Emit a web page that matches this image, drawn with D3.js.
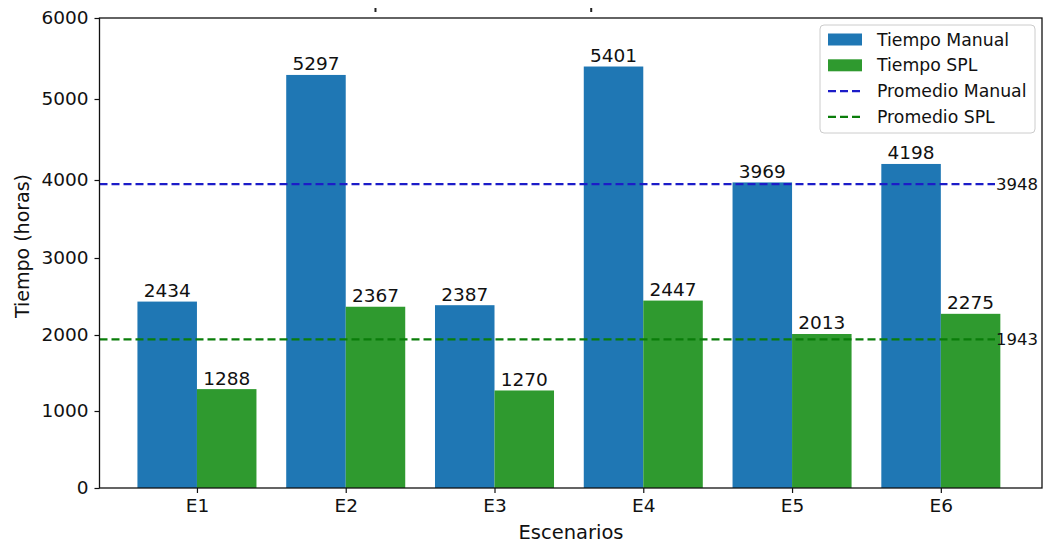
<!DOCTYPE html>
<html>
<head>
<meta charset="utf-8">
<script src="https://cdn.jsdelivr.net/npm/d3@7"></script>
<style>
  body { margin: 0; background: #fff; }
  text { font-family: "DejaVu Sans", sans-serif; fill: #111; }
</style>
</head>
<body>
<div id="chart"></div>
<script>
// Data
const scenarios = ["E1", "E2", "E3", "E4", "E5", "E6"];
const manualHours = [2434, 5297, 2387, 5401, 3969, 4198];
const splHours = [1288, 2367, 1270, 2447, 2013, 2275];
const yTicks = [0, 1000, 2000, 3000, 4000, 5000, 6000];
const legendItems = [
    { label: "Tiempo Manual", kind: "bar", color: "#1f77b4" },
    { label: "Tiempo SPL", kind: "bar", color: "#2f9a2f" },
    { label: "Promedio Manual", kind: "line", color: "#1c1cc8" },
    { label: "Promedio SPL", kind: "line", color: "#0a7d0a" },
];

// Layout
const width = 1044;
const height = 544;
const plot = { left: 99.5, right: 1042, top: 18, bottom: 488 };
const fontSize = 18.5;
const barWidth = 0.4;

const svg = d3.select("#chart").append("svg")
    .attr("width", width)
    .attr("height", height);

const x = d3.scaleLinear()
    .domain([-0.655, 5.68])
    .range([plot.left, plot.right]);

// the source picture is slightly stretched vertically, so follow its tick positions
const y = d3.scaleLinear()
    .domain(yTicks)
    .range([488, 411, 335, 258, 180, 99, 18]);

const meanManual = Math.round(d3.mean(manualHours));
const meanSpl = Math.round(d3.mean(splHours));

// Bars
const series = [
    { values: manualHours, color: legendItems[0].color, offset: -barWidth / 2 },
    { values: splHours, color: legendItems[1].color, offset: barWidth / 2 },
];

series.forEach((s) => {
    const g = svg.append("g");
    g.selectAll("rect")
        .data(s.values)
        .enter()
        .append("rect")
        .attr("x", (d, i) => x(i + s.offset - barWidth / 2))
        .attr("y", (d) => y(d))
        .attr("width", x(barWidth) - x(0))
        .attr("height", (d) => y(0) - y(d))
        .attr("fill", s.color);

    g.selectAll("text")
        .data(s.values)
        .enter()
        .append("text")
        .attr("x", (d, i) => x(i + s.offset))
        .attr("y", (d) => y(d) - 4.5)
        .attr("text-anchor", "middle")
        .attr("font-size", fontSize)
        .text((d) => d);
});

// Average lines
const averages = [
    { value: meanManual, color: legendItems[2].color },
    { value: meanSpl, color: legendItems[3].color },
];
const lineEnd = 995;

averages.forEach((a) => {
    svg.append("line")
        .attr("x1", plot.left)
        .attr("x2", lineEnd)
        .attr("y1", y(a.value))
        .attr("y2", y(a.value))
        .attr("stroke", a.color)
        .attr("stroke-width", 2.2)
        .attr("stroke-dasharray", "8,4");

    svg.append("text")
        .attr("x", lineEnd + 1)
        .attr("y", y(a.value))
        .attr("dy", "0.35em")
        .attr("font-size", 16.5)
        .text(a.value);
});

// Axes
const xAxis = svg.append("g")
    .attr("transform", `translate(0,${plot.bottom})`)
    .call(d3.axisBottom(x)
        .tickValues(d3.range(scenarios.length))
        .tickFormat((i) => scenarios[i])
        .tickSize(5)
        .tickPadding(6));

const yAxis = svg.append("g")
    .attr("transform", `translate(${plot.left},0)`)
    .call(d3.axisLeft(y)
        .tickValues(yTicks)
        .tickFormat(d3.format("d"))
        .tickSize(5)
        .tickPadding(6));

[xAxis, yAxis].forEach((ax) => {
    ax.selectAll("text")
        .attr("font-size", fontSize)
        .attr("font-family", "DejaVu Sans, sans-serif")
        .attr("fill", "#111");
    ax.selectAll("line").attr("stroke", "#111").attr("stroke-width", 1.2);
    ax.select(".domain").remove();
});

// Frame
svg.append("rect")
    .attr("x", plot.left)
    .attr("y", plot.top)
    .attr("width", plot.right - plot.left)
    .attr("height", plot.bottom - plot.top)
    .attr("fill", "none")
    .attr("stroke", "#111")
    .attr("stroke-width", 1.3);

// Small stray marks above the frame
svg.selectAll(".stray")
    .data([1.2, 2.65])
    .enter()
    .append("rect")
    .attr("x", (d) => x(d) - 1)
    .attr("y", 8)
    .attr("width", 2)
    .attr("height", 4)
    .attr("fill", "#222");

// Axis titles
svg.append("text")
    .attr("x", 571)
    .attr("y", 539)
    .attr("text-anchor", "middle")
    .attr("font-size", 19.5)
    .text("Escenarios");

svg.append("text")
    .attr("transform", "translate(29,246) rotate(-90)")
    .attr("text-anchor", "middle")
    .attr("font-size", 19)
    .text("Tiempo (horas)");

// Legend
const legend = svg.append("g").attr("transform", "translate(820,25)");

legend.append("rect")
    .attr("width", 215)
    .attr("height", 108)
    .attr("rx", 4)
    .attr("fill", "#fff")
    .attr("fill-opacity", 0.85)
    .attr("stroke", "#ccc");

const rows = legend.selectAll("g")
    .data(legendItems)
    .enter()
    .append("g")
    .attr("transform", (d, i) => `translate(8,${14.5 + i * 25.8})`);

rows.filter((d) => d.kind === "bar")
    .append("rect")
    .attr("x", 0)
    .attr("y", -6)
    .attr("width", 34)
    .attr("height", 12)
    .attr("fill", (d) => d.color);

rows.filter((d) => d.kind === "line")
    .append("line")
    .attr("x1", 0)
    .attr("x2", 34)
    .attr("stroke", (d) => d.color)
    .attr("stroke-width", 2.2)
    .attr("stroke-dasharray", "8,4");

rows.append("text")
    .attr("x", 49)
    .attr("dy", "0.35em")
    .attr("font-size", 17.3)
    .text((d) => d.label);
</script>
</body>
</html>
